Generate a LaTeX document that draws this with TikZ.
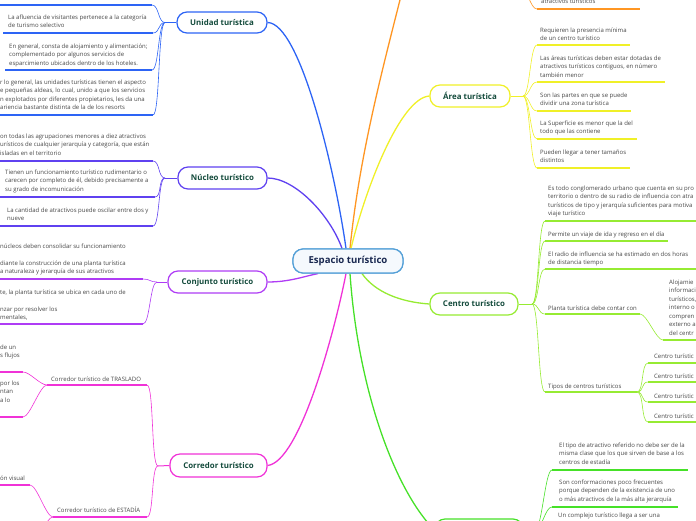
\documentclass[tikz,border=0pt]{standalone}
\usepackage{fontspec}
\setmainfont{Open Sans}
\definecolor{cU}{RGB}{45,100,245}
\definecolor{cN}{RGB}{95,65,240}
\definecolor{cC}{RGB}{175,60,245}
\definecolor{cR}{RGB}{240,50,215}
\definecolor{cA}{RGB}{240,240,40}
\definecolor{cT}{RGB}{150,235,50}
\definecolor{cG}{RGB}{70,225,40}
\definecolor{cO}{RGB}{255,150,35}
\definecolor{cE}{RGB}{85,160,215}
\definecolor{ttl}{RGB}{20,75,60}
\definecolor{ctr}{RGB}{25,40,80}
\definecolor{txc}{RGB}{70,70,70}
\tikzset{
 topic/.style={draw, rounded corners=10pt, line width=1.2pt, fill=white, text=ttl,
   font=\fontsize{7.9}{9}\selectfont\bfseries, inner sep=0pt},
 txt/.style={anchor=north west, inner sep=0pt, align=left, text=txc,
   font=\fontsize{6}{8.5}\selectfont},
 uline/.style={line width=1.7pt},
 twig/.style={line width=0.6pt},
 stem/.style={line width=1pt},
 limb/.style={line width=1.3pt},
}
\newcommand\leftbranch[5]{\draw[uline,#1] (#2,#4) -- (#3,#4);
  \draw[twig,#1] (#3,#4) .. controls +(7,0) and +(-7,0) .. (#5);}
\newcommand\rightbranch[5]{\draw[uline,#1] (#2,#4) -- (#3,#4);
  \draw[twig,#1] (#5) .. controls +(7,0) and +(-7,0) .. (#2,#4);}
\begin{document}
\begin{tikzpicture}[x=1pt,y=-1pt]
\useasboundingbox (0,0) rectangle (696,520);
\clip (0,0) rectangle (696,520);

% main topics
\node[topic, draw=cE, fill=cE!6, text=ctr, minimum width=110pt, minimum height=24pt,
  font=\fontsize{9.6}{11}\selectfont\bfseries] (E) at (348,261) {Espacio turístico};
\node[topic, draw=cU, minimum width=90pt, minimum height=21pt] (U) at (222,22.5) {Unidad turística};
\node[topic, draw=cN, minimum width=89pt, minimum height=22pt] (N) at (222.5,178) {Núcleo turístico};
\node[topic, draw=cC, minimum width=99pt, minimum height=22pt] (C) at (217.5,282) {Conjunto turístico};
\node[topic, draw=cR, minimum width=97pt, minimum height=23pt] (R) at (218.5,465.5) {Corredor turístico};
\node[topic, draw=cA, minimum width=80pt, minimum height=22pt] (A) at (470,96) {Área turística};
\node[topic, draw=cT, minimum width=88pt, minimum height=22pt] (T) at (474,304) {Centro turístico};
\node[topic, draw=cG, minimum width=88pt, minimum height=22pt] (G) at (479,530) {};
\coordinate (Ooff) at (405,-20);

% limbs from centre
\draw[limb,cU] (U.east) .. controls (300,23) and (335,170) .. ([xshift=-2pt]E.north);
\draw[limb,cN] (N.east) .. controls (295,178) and (330,215) .. ([xshift=-6pt]E.north);
\draw[limb,cO] ([xshift=2pt]E.north) .. controls (360,150) and (385,60) .. (Ooff);
\draw[limb,cA] (A.west) .. controls (400,98) and (365,190) .. ([xshift=3pt]E.north);
\draw[limb,cC] (C.east) .. controls (290,282) and (305,276) .. ([xshift=-30pt]E.south);
\draw[limb,cR] (R.east) .. controls (300,462) and (335,330) .. ([xshift=-2pt]E.south);
\draw[limb,cG] ([xshift=2pt]E.south) .. controls (358,390) and (395,490) .. (G.west);
\draw[limb,cT] ([xshift=14pt]E.south) .. controls (375,292) and (400,302) .. (T.west);
\node[topic, draw=cE, fill=cE!6, text=ctr, minimum width=110pt, minimum height=24pt,
  font=\fontsize{9.6}{11}\selectfont\bfseries] at (E) {Espacio turístico};

% ---- Unidad turística
\coordinate (JU) at (165,22.5);
\draw[stem,cU] (U.west) -- (JU);
\leftbranch{cU}{-5}{152}{5}{JU}
\leftbranch{cU}{3}{153}{33}{JU}
\leftbranch{cU}{5}{152}{70}{JU}
\leftbranch{cU}{-5}{153}{115}{JU}
\node[txt] (u2) at (8,14.5) {La afluencia de visitantes pertenece a la categoría\\de turismo selectivo};
\node[txt] (u3) at (9,43.5) {En general, consta de alojamiento y alimentación;\\complementado por algunos servicios de\\esparcimiento ubicados dentro de los hoteles.};
\node[txt] (u4) at (0,79.5) {r lo general, las unidades turísticas tienen el aspecto\\e pequeñas aldeas, lo cual, unido a que los servicios\\n explotados por diferentes propietarios, les da una\\ariencia bastante distinta de la de los resorts};

% ---- Núcleo turístico
\coordinate (JN) at (165,178);
\draw[stem,cN] (N.west) -- (JN);
\leftbranch{cN}{-5}{153}{161}{JN}
\leftbranch{cN}{-5}{155}{197}{JN}
\leftbranch{cN}{-5}{153}{226}{JN}
\node[txt] (n1) at (0,133.5) {on todas las agrupaciones menores a diez atractivos\\urísticos de cualquier jerarquía y categoría, que están\\isladas en el territorio};
\node[txt] (n2) at (5,169.5) {Tienen un funcionamiento turístico rudimentario o\\carecen por completo de él, debido precisamente a\\su grado de incomunicación};
\node[txt] (n3) at (7,207.5) {La cantidad de atractivos puede oscilar entre dos y\\nueve};

% ---- Conjunto turístico
\coordinate (JC) at (157,282);
\draw[stem,cC] (C.west) -- (JC);
\leftbranch{cC}{-5}{143}{279}{JC}
\leftbranch{cC}{-5}{143}{324}{JC}
\node[txt] (c1) at (0,243.5) {núcleos deben consolidar su funcionamiento\\[8.5pt]diante la construcción de una planta turística\\a naturaleza y jerarquía de sus atractivos};
\node[txt] (c2) at (0,289.5) {te, la planta turística se ubica en cada uno de\\[8.5pt]nzar por resolver los\\mentales,};

% ---- Corredor turístico
\coordinate (JR) at (158,466);
\draw[stem,cR] (R.west) -- (JR);
\leftbranch{cR}{47}{147}{385}{JR}
\leftbranch{cR}{53}{147}{517}{JR}
\node[txt] (r1) at (51,376.5) {Corredor turístico de TRASLADO};
\node[txt] (r2) at (57,506.5) {Corredor turístico de ESTADÍA};
\coordinate (JR1) at (47,385);
\coordinate (JR2) at (53,517);
\leftbranch{cR}{-5}{23}{372}{JR1}
\leftbranch{cR}{-5}{23}{417}{JR1}
\leftbranch{cR}{-5}{30}{485}{JR2}
\leftbranch{cR}{-5}{30}{545}{JR2}
\node[txt] (r1a) at (0,344.5) {de un\\s flujos};
\node[txt] (r1b) at (0,380.5) {por los\\ntan\\a lo};
\node[txt] (r2a) at (0,475.5) {ón visual};

% ---- orange (top)
\coordinate (JO) at (520,-14);
\rightbranch{cO}{537}{640}{9}{JO}
\node[txt] (o1) at (541,-1.5) {atractivos turísticos};

% ---- Área turística
\coordinate (JA) at (523,96);
\draw[stem,cA] (A.east) -- (JA);
\rightbranch{cA}{537}{630}{45}{JA}
\rightbranch{cA}{537}{665}{82}{JA}
\rightbranch{cA}{537}{631}{111}{JA}
\rightbranch{cA}{537}{637}{139}{JA}
\rightbranch{cA}{537}{630}{168}{JA}
\node[txt] (a1) at (540,27.5) {Requieren la presencia mínima\\de un centro turístico};
\node[txt] (a2) at (540,55.5) {Las áreas turísticas deben estar dotadas de\\atractivos turísticos contiguos, en número\\también menor};
\node[txt] (a3) at (540,92.5) {Son las partes en que se puede\\dividir una zona turística};
\node[txt] (a4) at (540,120.5) {La Superficie es menor que la del\\todo que las contiene};
\node[txt] (a5) at (540,149.5) {Pueden llegar a tener tamaños\\distintos};

% ---- Centro turístico
\coordinate (JT) at (532,304);
\draw[stem,cT] (T.east) -- (JT);
\rightbranch{cT}{545}{705}{221}{JT}
\rightbranch{cT}{545}{668}{241}{JT}
\rightbranch{cT}{545}{705}{269}{JT}
\rightbranch{cT}{545}{640}{314}{JT}
\rightbranch{cT}{545}{637}{392}{JT}
\node[txt] (t1) at (548,185.5) {Es todo conglomerado urbano que cuenta en su pro\\territorio o dentro de su radio de influencia con atra\\turísticos de tipo y jerarquía suficientes para motiva\\viaje turístico};
\node[txt] (t2) at (548,231.5) {Permite un viaje de ida y regreso en el día};
\node[txt] (t3) at (548,251.5) {El radio de influencia se ha estimado en dos horas\\de distancia tiempo};
\node[txt] (t4) at (548,305.5) {Planta turística debe contar con};
\node[txt] (t5) at (548,383.5) {Tipos de centros turísticos};
\coordinate (JT4) at (640,314);
\rightbranch{cT}{663}{705}{340}{JT4}
\node[txt] (t4a) at (669,279.5) {Alojamie\\informaci\\turísticos,\\interno o\\compren\\externo a\\del centr};
\coordinate (JT5) at (637,392);
\rightbranch{cT}{648}{705}{363}{JT5}
\rightbranch{cT}{648}{705}{382}{JT5}
\rightbranch{cT}{648}{705}{402}{JT5}
\rightbranch{cT}{648}{705}{422}{JT5}
\node[txt] (t5a) at (654,353.5) {Centro turístic};
\node[txt] (t5b) at (654,373.5) {Centro turístic};
\node[txt] (t5c) at (654,393.5) {Centro turístic};
\node[txt] (t5d) at (654,413.5) {Centro turístic};

% ---- green (bottom)
\coordinate (JG) at (535,530);
\draw[stem,cG] (G.east) -- (JG);
\rightbranch{cG}{552}{688}{470}{JG}
\rightbranch{cG}{552}{678}{507}{JG}
\node[txt] (g1) at (559,442.5) {El tipo de atractivo referido no debe ser de la\\misma clase que los que sirven de base a los\\centros de estadía};
\node[txt] (g2) at (559,479.5) {Son conformaciones poco frecuentes\\porque dependen de la existencia de uno\\o más atractivos de la más alta jerarquía};
\node[txt] (g3) at (558,512.5) {Un complejo turístico llega a ser una};
\end{tikzpicture}
\end{document}
